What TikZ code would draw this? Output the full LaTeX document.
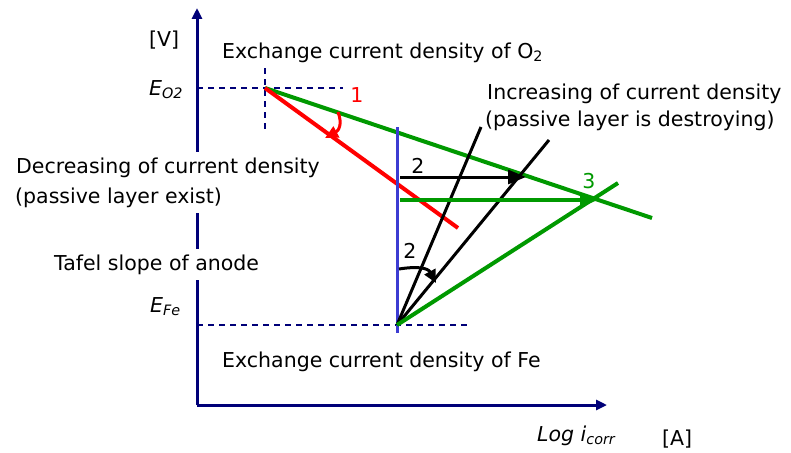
\documentclass[tikz,border=0pt]{standalone}
\usepackage{fontspec}
\setmainfont{DejaVu Sans}
\usepackage{tikz}
\usetikzlibrary{arrows.meta,positioning,calc}
\definecolor{axisblue}{RGB}{0,0,120}
\definecolor{plotgreen}{RGB}{0,153,0}
\definecolor{plotred}{RGB}{255,0,0}
\definecolor{passblue}{RGB}{60,60,210}
\tikzset{
  axisline/.style={draw=axisblue,line width=3pt,-{Triangle[length=11pt,width=10pt]}},
  guide/.style={draw=axisblue,line width=1.5pt,dash pattern=on 6pt off 5pt},
  curve/.style={line width=4pt},
  bigtip/.style={-{Triangle[length=18pt,width=14pt]}},
  smalltip/.style={-{Triangle[length=13pt,width=12pt]}},
  lbl/.style={inner sep=0pt,anchor=base west,font=\fontsize{20.5}{24}\selectfont},
  box/.style={lbl,fill=white,inner xsep=1pt,inner ysep=5pt,text height=16pt,text depth=5pt},
  num/.style={inner sep=0pt,font=\fontsize{20.5}{24}\selectfont}
}
\begin{document}
\begin{tikzpicture}[x=1pt,y=-1pt]
  \useasboundingbox (0,0) rectangle (791,452);
  \fill[white] (0,0) rectangle (791,452);
  % axes
  \coordinate (orig) at (197,405);
  \coordinate (ytop) at (197,8);
  \coordinate (xend) at (607,405);
  \draw[axisline] (orig) -- (ytop);
  \draw[axisline] (orig) -- (xend);
  % equilibrium points
  \coordinate (eo2) at (197,88);
  \coordinate (o2) at (265,88);
  \coordinate (o2r) at (343,88);
  \coordinate (o2t) at (265,68);
  \coordinate (o2b) at (265,130);
  \coordinate (efe) at (197,325);
  \coordinate (fe) at (397,325);
  \coordinate (fer) at (470,325);
  \draw[guide] (eo2) -- (o2r);
  \draw[guide] (o2t) -- (o2b);
  \draw[guide] (efe) -- (fer);
  % cathodic lines
  \coordinate (gend) at (652,218);
  \coordinate (rend) at (458,228);
  \draw[curve,plotgreen] (o2) -- (gend);
  \draw[curve,plotred] (o2) -- (rend);
  \draw[plotred,line width=3pt,smalltip] (338,112) .. controls (343,125) and (338,131) .. (325,138);
  % passive current
  \coordinate (pt) at (397,127);
  \coordinate (pb) at (397,333);
  \draw[passblue,line width=3pt] (pt) -- (pb);
  % anodic lines
  \coordinate (a1) at (481,127);
  \coordinate (a2) at (549,140);
  \coordinate (a3) at (618,183);
  \draw[line width=3pt] (fe) -- (a1);
  \draw[line width=3pt] (fe) -- (a2);
  \draw[curve,plotgreen] (fe) -- (a3);
  \draw[line width=3pt,smalltip] (399,269) .. controls (418,266) and (428,268) .. (436,283);
  % shifts
  \coordinate (s2a) at (400,177);
  \coordinate (s2b) at (526,177);
  \coordinate (s3a) at (400,200);
  \coordinate (s3b) at (598,200);
  \draw[line width=3pt,bigtip] (s2a) -- (s2b);
  \draw[curve,plotgreen,bigtip] (s3a) -- (s3b);
  % labels
  \node[lbl] (vunit) at (149,47) {[V]};
  \node[lbl] (eo2lbl) at (149,95) {\itshape E\textsubscript{O2}};
  \node[lbl] (efelbl) at (150,312) {\itshape E\textsubscript{Fe}};
  \node[lbl] (exo2) at (222,58) {Exchange current density of O\textsubscript{2}};
  \node[lbl] (exfe) at (222,367) {Exchange current density of Fe};
  \node[box] (decr1) at (15,173) {Decreasing of current density};
  \node[box] (decr2) at (14,203) {(passive layer exist)};
  \node[box] (tafel) at (53,270) {Tafel slope of anode};
  \node[lbl] (incr1) at (487,99) {Increasing of current density};
  \node[lbl] (incr2) at (485,126) {(passive layer is destroying)};
  \node[lbl] (xlog) at (537,441) {\itshape Log i\textsubscript{corr}};
  \node[lbl] (aunit) at (662,445) {[A]};
  \node[num,plotred] (n1) at (357,95) {1};
  \node[num] (n2a) at (418,166) {2};
  \node[num,plotgreen] (n3) at (589,181) {3};
  \node[num] (n2b) at (410,251) {2};
\end{tikzpicture}
\end{document}
